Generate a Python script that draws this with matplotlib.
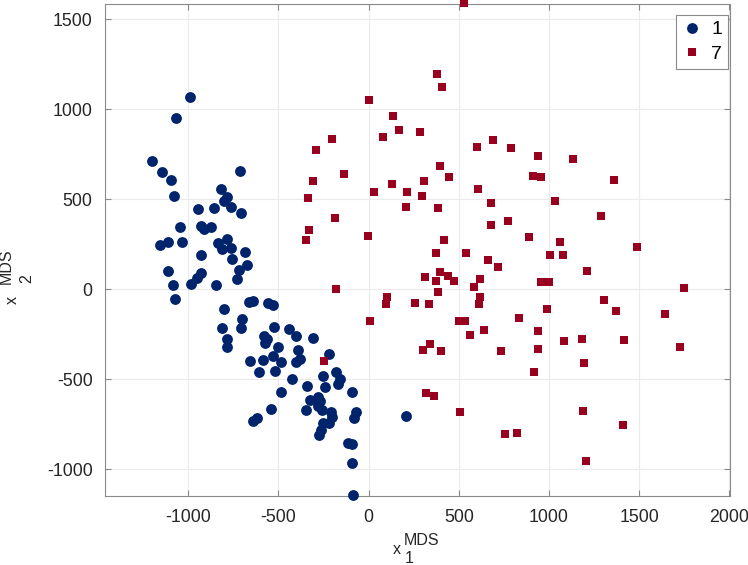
import matplotlib
matplotlib.use("Agg")
import matplotlib.pyplot as plt

# ---- data ----
class1_x = [-990, -1068, -1201, -1147, -1096, -1079, -712, -819, -785, -804, -944, -857, -763, -708,
            -1044, -928, -913, -874, -1159, -1114, -1033, -835, -784, -815, -763, -684, -928, -758,
            -676, -719, -1114, -928, -953, -983, -1083, -845, -732, -1075, -663, -643, -556, -529, -802,
            -700, -815, -709, -523, -441, -403, -310, -784, -787, -578, -565, -575, -501, -393, -220,
            -658, -584, -529, -488, -404, -380, -606, -519, -423, -251, -181, -159, -168, -342, -240,
            -488, -90, -325, -282, -270, -282, -260, -346, -541, -209, -205, -218, -251, -264, -275,
            -70, -81, -621, -639, -116, -90, -94, -85, 207]
class1_y = [1067, 952, 713, 652, 606, 520, 657, 556, 513, 491, 448, 453, 457, 422,
            348, 352, 337, 344, 248, 263, 261, 257, 279, 222, 228, 209, 192, 168,
            135, 109, 103, 92, 63, 28, 26, 24, 56, -56, -69, -65, -74, -87, -108,
            -165, -213, -213, -209, -222, -261, -271, -274, -319, -259, -278, -300, -321, -336, -361,
            -400, -393, -371, -406, -404, -389, -461, -452, -498, -480, -461, -497, -526, -537, -544,
            -571, -571, -615, -597, -621, -648, -671, -671, -665, -680, -708, -744, -744, -782, -810,
            -683, -717, -717, -733, -852, -860, -965, -1145, -706]

class7_x = [-181, 8, -246, -347, 418, 375, 538, 660, 716, 311, 394, 372, 440, 472, 616, 584, 385,
            104, 98, 256, 333, 616, 611, 501, 535, 638, 564, 342, 300, 400, 733, 317, 364, 507, 756,
            529, 381, 407, 2, 134, 169, 78, 287, -201, -293, 603, 690, 398, 448, -307, -135, 130,
            307, 30, 211, 298, 607, -334, 207, 387, 677, -186, 680, -331, -5,
            790, 938, 1134, 912, 954, 1361, 1034, 1291, 773, 890, 1060, 1489, 1008, 1076, 1211,
            954, 1002, 1751, 1307, 1372, 1642, 991, 834, 940, 1085, 1182, 1416, 1729, 941, 1195,
            916, 1191, 1413, 825, 1207]
class7_y = [2, -174, -397, 274, 274, 203, 203, 164, 126, 70, 94, 46, 76, 46, 56, 13, -15,
            -41, -80, -74, -83, -44, -80, -174, -174, -228, -252, -304, -336, -341, -344, -576, -593, -683, -802,
            1592, 1196, 1122, 1052, 964, 883, 848, 874, 835, 772, 791, 830, 687, 626, 603, 639, 583,
            603, 542, 539, 520, 556, 507, 459, 450, 478, 394, 356, 329, 298,
            787, 739, 722, 629, 626, 607, 491, 407, 378, 291, 264, 235, 191, 191, 103,
            39, 42, 7, -61, -122, -136, -109, -161, -232, -289, -278, -282, -322, -332, -409,
            -458, -676, -754, -800, -954]

labels = ["1", "7"]
x_ticks = [-1000, -500, 0, 500, 1000, 1500, 2000]
y_ticks = [-1000, -500, 0, 500, 1000, 1500]

# ---- style ----
plt.rcParams['font.family'] = ['Liberation Sans', 'DejaVu Sans']
plt.rcParams['axes.unicode_minus'] = False
W, H = 748, 565
fig = plt.figure(figsize=(W / 100, H / 100), dpi=100)
ax = fig.add_axes([105 / W, (H - 496) / H, 625 / W, 492 / H])

blue = '#00246B'
red = '#990020'

ax.plot(class1_x, class1_y, 'o', ls='none', color=blue, markersize=7.8,
        markeredgewidth=0, label=labels[0], clip_on=False, zorder=3)
ax.plot(class7_x, class7_y, 's', ls='none', color=red, markersize=6.0,
        markeredgewidth=0, label=labels[1], clip_on=False, zorder=4)

ax.set_xlim(-1462, 2004)
ax.set_ylim(-1148, 1585)
ax.set_xticks(x_ticks)
ax.set_yticks(y_ticks)
ax.grid(True, color='#ebebeb', linewidth=0.8, zorder=0)
ax.set_axisbelow(True)

for s in ax.spines.values():
    s.set_color('#8a8a8a')
    s.set_linewidth(0.8)
ax.tick_params(direction='in', length=4.3, width=0.8, color='#8a8a8a',
               top=True, right=True, labelsize=12.8, labelcolor='#262626', pad=9)

leg = ax.legend(loc='upper right', bbox_to_anchor=(728 / W, 1 - 15 / H),
                bbox_transform=fig.transFigure, borderaxespad=0, fontsize=14,
                handlelength=1.0, handletextpad=0.5, borderpad=0.3, labelspacing=0.35,
                fancybox=False, framealpha=1, edgecolor='#8a8a8a', numpoints=1)
leg.get_frame().set_linewidth(0.8)
for t in leg.get_texts():
    t.set_color('#000000')

# ---- axis labels built as x with stacked sub/superscripts ----
lab_fs = 11.5
tc = '#262626'
def fy(ypx):
    return 1 - ypx / H
# x label
fig.text(393 / W, fy(554), 'x', fontsize=lab_fs, color=tc, ha='left', va='baseline')
fig.text(404 / W, fy(545), 'MDS', fontsize=lab_fs, color=tc, ha='left', va='baseline')
fig.text(405 / W, fy(563), '1', fontsize=lab_fs, color=tc, ha='left', va='baseline')
# y label (rotated)
fig.text(20 / W, fy(296), 'x', fontsize=lab_fs, color=tc, rotation=90,
         ha='right', va='bottom', rotation_mode='anchor')
fig.text(11 / W, fy(284), 'MDS', fontsize=lab_fs, color=tc, rotation=90,
         ha='left', va='baseline', rotation_mode='anchor')
fig.text(31 / W, fy(283), '2', fontsize=lab_fs, color=tc, rotation=90,
         ha='left', va='baseline', rotation_mode='anchor')

fig.savefig('out.png', dpi=100)
